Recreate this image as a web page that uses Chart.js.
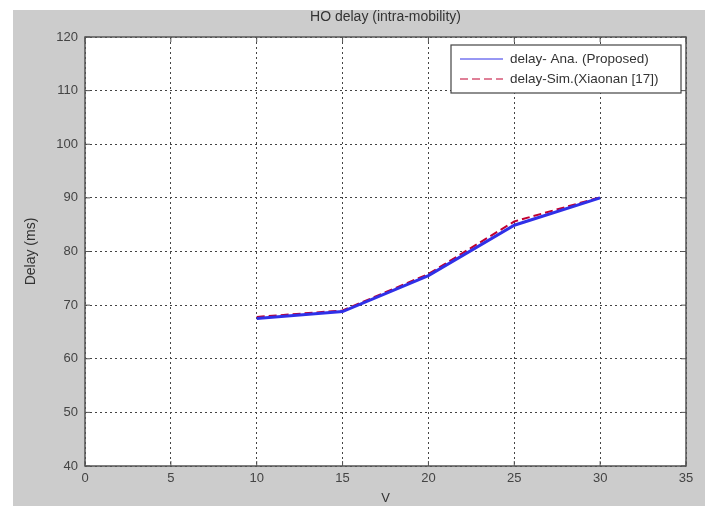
<!DOCTYPE html>
<html>
<head>
<meta charset="utf-8">
<script src="https://cdn.jsdelivr.net/npm/chart.js@4"></script>
<style>
  html, body { margin: 0; padding: 0; background: #fff; }
  #wrap { width: 711px; height: 506px; }
</style>
</head>
<body>
<div id="wrap"><canvas id="chart" width="711" height="506"></canvas></div>
<script>
// data
var speeds = [10, 15, 20, 25, 30];
var delayAna = [67.5, 68.8, 75.5, 84.9, 90.0];
var delaySim = [67.8, 69.0, 75.8, 85.6, 90.1];
var xTicks = [0, 5, 10, 15, 20, 25, 30, 35];
var yTicks = [40, 50, 60, 70, 80, 90, 100, 110, 120];
var labels = ['delay- Ana. (Proposed)', 'delay-Sim.(Xiaonan [17])'];
var titleText = 'HO delay (intra-mobility)';

var FONT = '"Liberation Sans", Arial, sans-serif';

// matlab style background, title over the axes, plot box and legend
var figurePlugin = {
  id: 'figure',
  beforeDraw: function (chart) {
    var c = chart.ctx, a = chart.chartArea;
    c.save();
    c.fillStyle = '#fff';
    c.fillRect(0, 0, chart.width, chart.height);
    c.fillStyle = '#cccccc';
    c.fillRect(13, 10, 692, 496);
    c.fillStyle = '#fff';
    c.fillRect(a.left, a.top, a.right - a.left, a.bottom - a.top);
    // title centred over the axes
    c.fillStyle = '#333';
    c.font = '14px ' + FONT;
    c.textAlign = 'center';
    c.textBaseline = 'middle';
    c.fillText(titleText, (a.left + a.right) / 2, 17);
    c.restore();
  },
  afterDatasetsDraw: function (chart) {
    var c = chart.ctx, a = chart.chartArea;
    c.save();
    c.strokeStyle = '#555';
    c.lineWidth = 1.5;
    c.strokeRect(a.left, a.top, a.right - a.left, a.bottom - a.top);
    // small inward ticks
    c.lineWidth = 1;
    var xs = chart.scales.x, ys = chart.scales.y;
    xTicks.forEach(function (t) {
      var px = xs.getPixelForValue(t);
      c.beginPath(); c.moveTo(px, a.bottom); c.lineTo(px, a.bottom - 5); c.stroke();
      c.beginPath(); c.moveTo(px, a.top); c.lineTo(px, a.top + 5); c.stroke();
    });
    yTicks.forEach(function (t) {
      var py = ys.getPixelForValue(t);
      c.beginPath(); c.moveTo(a.left, py); c.lineTo(a.left + 5, py); c.stroke();
      c.beginPath(); c.moveTo(a.right, py); c.lineTo(a.right - 5, py); c.stroke();
    });
    // legend box
    var bx = 451, by = 45, bw = 230, bh = 48;
    c.fillStyle = '#fff';
    c.fillRect(bx, by, bw, bh);
    c.strokeStyle = '#444';
    c.lineWidth = 1.2;
    c.strokeRect(bx, by, bw, bh);
    c.font = '13.5px ' + FONT;
    c.textBaseline = 'middle';
    chart.data.datasets.forEach(function (ds, i) {
      var ly = by + 14 + i * 20;
      c.strokeStyle = ds.borderColor;
      c.lineWidth = 1;
      c.setLineDash(ds.borderDash || []);
      c.beginPath(); c.moveTo(460, ly); c.lineTo(503, ly); c.stroke();
      c.setLineDash([]);
      c.fillStyle = '#333';
      c.fillText(ds.label, 510, ly);
    });
    c.restore();
  }
};

var ctx = document.getElementById('chart').getContext('2d');
var chart = new Chart(ctx, {
  type: 'line',
  data: {
    datasets: [
      {
        label: labels[0],
        data: speeds.map(function (v, i) { return { x: v, y: delayAna[i] }; }),
        borderColor: '#3030e8',
        borderWidth: 3,
        pointRadius: 0,
        fill: false,
        tension: 0
      },
      {
        label: labels[1],
        data: speeds.map(function (v, i) { return { x: v, y: delaySim[i] }; }),
        borderColor: '#c00030',
        borderWidth: 2,
        borderDash: [8, 4],
        pointRadius: 0,
        fill: false,
        tension: 0
      }
    ]
  },
  options: {
    responsive: false,
    animation: false,
    layout: { padding: { left: 0, right: 25, top: 37, bottom: 0 } },
    plugins: {
      legend: { display: false },
      tooltip: { enabled: false },
      title: { display: false }
    },
    scales: {
      x: {
        type: 'linear',
        min: 0,
        max: 35,
        afterBuildTicks: function (s) { s.ticks = xTicks.map(function (v) { return { value: v }; }); },
        afterFit: function (s) { s.height = 40; },
        grid: { color: '#444', lineWidth: 1, drawTicks: false },
        border: { display: false, dash: [2, 3] },
        ticks: {
          color: '#444',
          padding: 5,
          maxRotation: 0,
          font: { family: FONT, size: 13 }
        },
        title: {
          display: true,
          text: 'V',
          color: '#333',
          padding: { top: 0, bottom: 0 },
          font: { family: FONT, size: 13 }
        }
      },
      y: {
        min: 40,
        max: 120,
        afterBuildTicks: function (s) { s.ticks = yTicks.map(function (v) { return { value: v }; }); },
        afterFit: function (s) { s.width = 85; },
        grid: { color: '#444', lineWidth: 1, drawTicks: false },
        border: { display: false, dash: [2, 3] },
        ticks: {
          color: '#444',
          padding: 7,
          font: { family: FONT, size: 13 }
        },
        title: {
          display: true,
          text: 'Delay (ms)',
          color: '#333',
          padding: { top: 23, bottom: 0 },
          font: { family: FONT, size: 14 }
        }
      }
    }
  },
  plugins: [figurePlugin]
});
</script>
</body>
</html>
